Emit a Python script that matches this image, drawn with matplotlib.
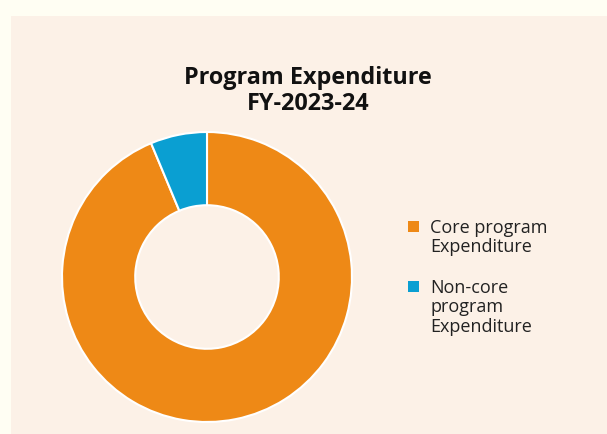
import matplotlib
matplotlib.use("Agg")
import matplotlib.pyplot as plt
from matplotlib.patches import Rectangle

# Program expenditure split, FY-2023-24 (share of total, %)
categories = ["Core program\nExpenditure", "Non-core\nprogram\nExpenditure"]
values = [93.7, 6.3]
colors = ["#EE8916", "#0A9FD2"]
title = "Program Expenditure\nFY-2023-24"

W, H = 607, 435
fig = plt.figure(figsize=(W / 100, H / 100), dpi=100)
fig.patch.set_facecolor("#FFFEF3")

# Inner panel
fig.patches.append(Rectangle((11 / W, 0), 1 - 11 / W, 1 - 17 / H,
                             transform=fig.transFigure, facecolor="#FCF1E7",
                             edgecolor="none", zorder=-10))

font = ["Open Sans", "DejaVu Sans"]

fig.text(308 / W, 1 - 91 / H, title, ha="center", va="center",
         fontsize=16.8, fontweight="bold", family=font, color="#111111",
         linespacing=1.15)

# Donut
cx, cy, r = 207, 278, 145
ax = fig.add_axes([(cx - r) / W, 1 - (cy + r) / H, 2 * r / W, 2 * r / H])
ax.set_zorder(5)
ax.pie(values, colors=colors, startangle=90, counterclock=False,
       radius=1.0, wedgeprops=dict(width=0.505, edgecolor="white", linewidth=1.5))
ax.set_xlim(-1.0, 1.0)
ax.set_ylim(-1.0, 1.0)
ax.set_aspect("equal")
ax.axis("off")

# Legend
tops = [219, 279]
for lab, col, top in zip(categories, colors, tops):
    fig.patches.append(Rectangle((408 / W, 1 - (top + 14) / H), 11 / W, 11 / H,
                                 transform=fig.transFigure, facecolor=col,
                                 edgecolor="none"))
    fig.text(430 / W, 1 - top / H, lab, ha="left", va="top", fontsize=13,
             family=font, color="#222222", linespacing=1.1)

fig.savefig("out.png", dpi=100, facecolor=fig.get_facecolor())
